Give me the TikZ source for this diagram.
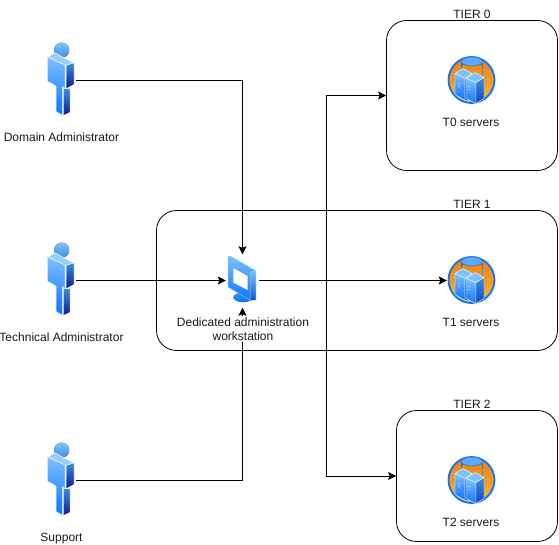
\documentclass[tikz,border=0pt]{standalone}
\usepackage{fontspec}
\setmainfont{Liberation Sans}
\usetikzlibrary{arrows.meta,calc}
\definecolor{lblue}{HTML}{7CC2FF}
\definecolor{mblue}{HTML}{0F72FF}
\definecolor{dblue}{HTML}{0A1C8C}
\definecolor{sblue}{HTML}{3F8CE0}
\definecolor{ringorange}{HTML}{E87E12}
\definecolor{ringyellow}{HTML}{F8B63C}
\tikzset{
  lab/.style={font=\fontsize{12}{15}\selectfont,text=black!90,align=center,inner sep=0pt,anchor=base},
  wlab/.style={font=\fontsize{12}{14.5}\selectfont,text=black!90,align=center,fill=white,inner xsep=1pt,inner ysep=1.5pt},
  tier/.style={draw=black,line width=0.8pt,rounded corners=20pt},
  conn/.style={draw=black,line width=0.8pt,-{Stealth[length=8pt,width=8pt,inset=1.5pt]}},
  personbox/.style={minimum width=30pt,minimum height=78pt,inner sep=0pt},
  serverbox/.style={minimum width=48pt,minimum height=48pt,inner sep=0pt},
  pcbox/.style={minimum width=33pt,minimum height=52pt,inner sep=0pt},
  facelight/.style={draw=white,line width=0.5pt,top color=lblue,bottom color=mblue},
  facedark/.style={draw=white,line width=0.5pt,top color=sblue,bottom color=dblue},
  person/.pic={
    \fill[top color=lblue,bottom color=sblue] (0.7,-30.3) circle (7.5);
    \path[facelight] (-13.3,-23.7) -- (4,-16) -- (4,8.3) -- (1.7,6.3) -- (1.7,35) -- (-5,31) -- (-5,5.7) -- (-7.7,4) -- (-13.3,1) -- cycle;
    \path[draw=white,line width=0.5pt,fill=lblue!80!white] (-13.3,-23.7) -- (-6,-27.5) -- (12.5,-17.7) -- (5,-15) -- cycle;
    \path[facedark] (5,-15) -- (13,-17.7) -- (13,4) -- (5,8.5) -- cycle;
    \path[facedark] (2.3,8) -- (9,8) -- (9,32) -- (2.3,35) -- cycle;
  },
  server/.pic={
    \path[draw=mblue,line width=1.8pt,top color=ringorange,bottom color=ringyellow] (0.5,-0.5) circle (23);
    \path[draw=sblue,line width=0.8pt] (-10,-16) -- (-10,6) (11,-16) -- (11,6);
    \path[draw=sblue!70!black,line width=0.4pt,left color=mblue,right color=sblue] (-9.5,-19) -- (-9.5,-14) arc[start angle=180,end angle=360,x radius=10.5,y radius=4.5] -- (11.5,-19) -- cycle;
    \path[draw=sblue!70!black,line width=0.4pt,fill=lblue!70!mblue] (1,-19) ellipse [x radius=10.5,y radius=4.5];
    \path[draw=white,line width=0.4pt,fill=lblue] (-16,-7) -- (-8,-12) -- (1,-7) -- (-6,-2) -- cycle;
    \path[draw=white,line width=0.4pt,top color=lblue,bottom color=mblue] (-16,-7) -- (-6,-2) -- (-6,20) -- (-16,14) -- cycle;
    \path[draw=white,line width=0.4pt,top color=sblue,bottom color=dblue!50!mblue] (-6,-2) -- (1,-7) -- (1,19) -- (-6,20) -- cycle;
    \path[draw=white,line width=0.4pt,fill=lblue] (-5,-2) -- (4,-8) -- (13,-3) -- (5,2) -- cycle;
    \path[draw=white,line width=0.4pt,top color=lblue,bottom color=mblue] (-5,-2) -- (5,2) -- (5,23) -- (-5,18) -- cycle;
    \path[draw=white,line width=0.4pt,top color=sblue,bottom color=dblue!50!mblue] (5,2) -- (13,-3) -- (13,18) -- (5,23) -- cycle;
    \fill[white] (-12,3) circle (0.7) (-12,6) circle (0.7) (-2,6) circle (0.7) (-2,9) circle (0.7);
  },
  workstation/.pic={
    \path[top color=sblue,bottom color=mblue] (0.3,16.3) ellipse [x radius=10,y radius=5];
    \path[draw=white,line width=0.4pt,top color=lblue,bottom color=dblue!40!mblue] (7,-9) -- (13,-10) -- (13,19) -- (7,20) -- cycle;
    \path[draw=lblue,line width=0.5pt,top color=lblue,bottom color=mblue] (-15,-24) -- (-13,-25) -- (13,-10) -- (7,-9) -- (7,19) -- (-15,6) -- cycle;
    \path[fill=white] (-9.7,-12.7) -- (4.7,-5) -- (4.7,9) -- (-9.7,1.7) -- cycle;
  }
}
\begin{document}
\begin{tikzpicture}[x=1pt,y=-1pt]
\useasboundingbox (0,0) rectangle (559,545);
% tier boxes
\node[tier,minimum width=171pt,minimum height=150pt] (t0box) at (472,95.5) {};
\node[tier,minimum width=401pt,minimum height=140pt] (t1box) at (357,280.5) {};
\node[tier,minimum width=161pt,minimum height=131pt] (t2box) at (477,476) {};
% icon anchors
\node[personbox] (da) at (61,80.5) {};
\node[personbox] (ta) at (61,280.5) {};
\node[personbox] (su) at (61,480.5) {};
\node[pcbox] (pc) at (242.5,280.5) {};
\node[serverbox] (s0) at (471,80.5) {};
\node[serverbox] (s1) at (471,280.5) {};
\node[serverbox] (s2) at (471,480.5) {};
\coordinate (bus) at (326.5,280.5);
% connectors
\draw[conn] (da.east) -| (pc.north);
\draw[conn] (ta.east) -- (pc.west);
\draw[conn] (su.east) -| ($(pc.south)+(0,1)$);
\draw[conn] (pc.east) -- (s1.west);
\draw[conn] (pc.east) -- (bus) |- (t0box.west);
\draw[conn] (pc.east) -- (bus) |- (t2box.west);
% icons
\pic at (da) {person};
\pic at (ta) {person};
\pic at (su) {person};
\pic at ($(pc)+(0.5,0.5)$) {workstation};
\pic at (s0) {server};
\pic at (s1) {server};
\pic at (s2) {server};
% labels
\node[lab] (l1) at (61.5,141.5) {Domain Administrator};
\node[lab] (l2) at (61.5,341) {Technical Administrator};
\node[lab] (l3) at (61.5,541) {Support};
\node[wlab] (l4) at (243,329) {Dedicated administration\\workstation};
\node[lab] (l5) at (471,126.6) {T0 servers};
\node[lab] (l6) at (471,326) {T1 servers};
\node[lab] (l7) at (471,526) {T2 servers};
\node[lab] (l8) at (472,18.6) {TIER 0};
\node[lab] (l9) at (472,208.6) {TIER 1};
\node[lab] (l10) at (472,408) {TIER 2};
\end{tikzpicture}
\end{document}
